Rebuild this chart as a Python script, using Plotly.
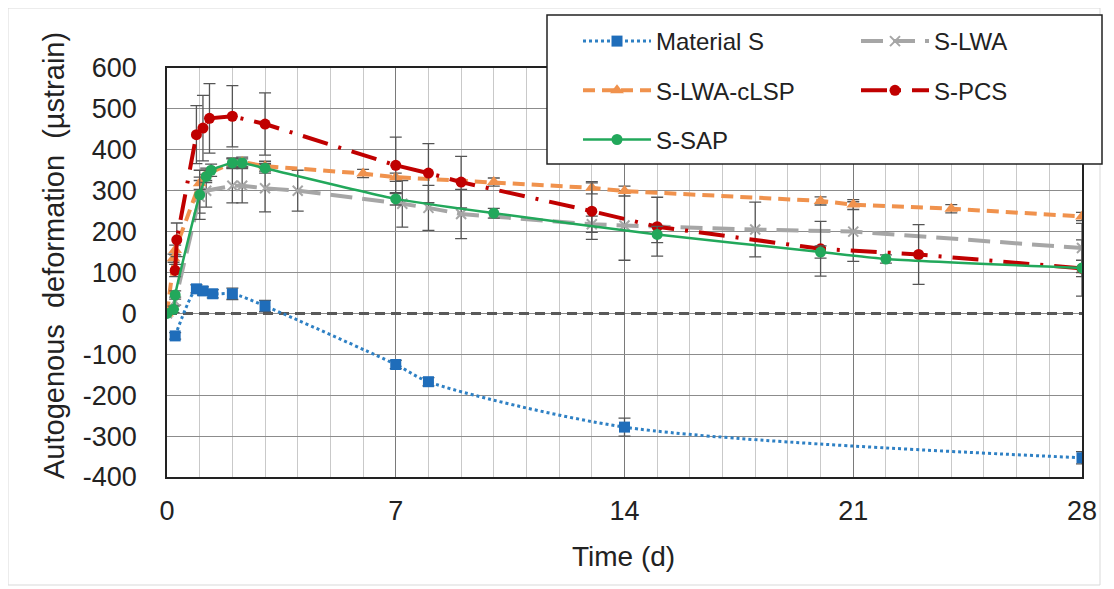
import plotly.graph_objects as go

# ---------------- data ----------------
t_mat = [0.25, 0.9, 1.1, 1.4, 2, 3, 7, 8, 14, 28]
v_mat = [-55, 60, 55, 48, 48, 18, -125, -167, -278, -353]
e_mat = [8, 10, 10, 10, 14, 14, 10, 10, 22, 15]

t_lwa = [0, 0.25, 1, 1.2, 2, 2.3, 3, 4, 7.2, 8, 9, 13, 14, 18, 21, 28]
v_lwa = [0, 30, 285, 300, 312, 312, 306, 300, 268, 258, 243, 218, 215, 205, 200, 160]
e_lwa = [0, 10, 40, 40, 42, 42, 58, 50, 57, 55, 60, 20, 85, 67, 73, 60]

t_clsp = [0, 0.2, 0.25, 1, 1.2, 2, 2.3, 3, 6, 7, 10, 13, 14, 20, 21, 24, 28]
v_clsp = [0, 135, 155, 318, 340, 368, 370, 360, 342, 333, 321, 307, 299, 275, 266, 256, 237]
e_clsp = [0, 10, 12, 15, 15, 12, 12, 12, 10, 10, 10, 15, 12, 10, 12, 10, 10]

t_pcs = [0.25, 0.3, 0.9, 1.1, 1.3, 2, 3, 7, 8, 9, 13, 15, 20, 23, 28]
v_pcs = [105, 180, 437, 453, 477, 482, 463, 362, 343, 321, 250, 212, 158, 144, 110]
e_pcs = [15, 41, 71, 80, 85, 75, 76, 69, 72, 63, 69, 72, 67, 73, 20]

t_sap = [0, 0.2, 0.25, 1, 1.2, 1.35, 2, 2.3, 3, 7, 10, 15, 20, 22, 28]
v_sap = [0, 10, 45, 290, 335, 350, 368, 368, 355, 280, 245, 193, 150, 133, 111]
e_sap = [0, 8, 10, 60, 15, 15, 10, 10, 12, 15, 12, 20, 15, 10, 69]

t_zero = [0, 28]
v_zero = [0, 0]

x_ticks = [0, 7, 14, 21, 28]
y_ticks = [-400, -300, -200, -100, 0, 100, 200, 300, 400, 500, 600]

FONT = "Liberation Sans, Arial, sans-serif"
OFF = 8  # page body margin
W, H = 1114 - OFF, 589 - OFF
# plot area in screen pixels
L, R, T, B = 167 - OFF, 1082 - OFF, 68 - OFF, 477 - OFF


def px2x(px):
    return (px - OFF - L) / (R - L)


def px2y(py):
    return (B - (py - OFF)) / (B - T)


def err(arr):
    return dict(type="data", array=arr, color="#555555", thickness=1.3, width=6)


fig = go.Figure()

fig.add_trace(go.Scatter(
    x=t_zero, y=v_zero, mode="lines", showlegend=False, hoverinfo="skip",
    line=dict(color="#595959", width=3, dash="10px,6px")))

fig.add_trace(go.Scatter(
    x=t_mat, y=v_mat, name="Material S", mode="lines+markers",
    line=dict(color="#2E80C4", width=3, dash="dot", shape="spline", smoothing=0.8),
    marker=dict(symbol="square", size=11, color="#1F6DBA"),
    error_y=err(e_mat), legend="legend", legendgroup="a"))

fig.add_trace(go.Scatter(
    x=t_lwa, y=v_lwa, name="S-LWA", mode="lines+markers",
    line=dict(color="#A6A6A6", width=4, dash="22px,10px"),
    marker=dict(symbol="x-thin", size=10, color="#A6A6A6", line=dict(width=2, color="#A6A6A6")),
    error_y=err(e_lwa), legend="legend2", legendgroup="b"))

fig.add_trace(go.Scatter(
    x=t_clsp, y=v_clsp, name="S-LWA-cLSP", mode="lines+markers",
    line=dict(color="#F0924D", width=4, dash="12px,7px"),
    marker=dict(symbol="triangle-up", size=12, color="#F0924D"),
    error_y=err(e_clsp), legend="legend", legendgroup="c"))

fig.add_trace(go.Scatter(
    x=t_pcs, y=v_pcs, name="S-PCS", mode="lines+markers",
    line=dict(color="#C00000", width=4, dash="26px,11px,3px,11px"),
    marker=dict(symbol="circle", size=11, color="#C00000"),
    error_y=err(e_pcs), legend="legend2", legendgroup="d"))

fig.add_trace(go.Scatter(
    x=t_sap, y=v_sap, name="S-SAP", mode="lines+markers",
    line=dict(color="#22A85B", width=2.5, shape="spline", smoothing=0.6),
    marker=dict(symbol="circle", size=11, color="#22A85B"),
    error_y=err(e_sap), legend="legend", legendgroup="e"))

legend_common = dict(
    bgcolor="rgba(0,0,0,0)", borderwidth=0, font=dict(family=FONT, size=24, color="#222222"),
    itemwidth=68, tracegroupgap=15, xanchor="left", yanchor="top", orientation="v",
    xref="paper", yref="paper", traceorder="grouped")

fig.update_layout(
    width=W, height=H,
    margin=dict(l=L, r=W - R, t=T, b=H - B, autoexpand=False),
    paper_bgcolor="white", plot_bgcolor="white",
    font=dict(family=FONT, size=27, color="#222222"),
    legend=dict(x=px2x(578), y=px2y(19), **legend_common),
    legend2=dict(x=px2x(856), y=px2y(19), **legend_common),
    xaxis=dict(
        range=[0, 28], tickmode="array", tickvals=x_ticks, ticktext=[str(v) for v in x_ticks],
        showgrid=True, gridcolor="#7A7A7A", gridwidth=1,
        minor=dict(dtick=1, tick0=0, showgrid=True, gridcolor="#C9C9C9", gridwidth=1),
        showline=True, linecolor="#222222", linewidth=1.5, mirror=True,
        zeroline=False, ticks="", ticklabelstandoff=9,
        tickfont=dict(family=FONT, size=27, color="#222222")),
    yaxis=dict(
        range=[-400, 600], tickmode="array", tickvals=y_ticks, ticktext=[str(v) for v in y_ticks],
        showgrid=True, gridcolor="#8C8C8C", gridwidth=1,
        showline=True, linecolor="#222222", linewidth=1.5, mirror=True,
        zeroline=False, ticks="", ticklabelstandoff=23,
        tickfont=dict(family=FONT, size=27, color="#222222")),
    shapes=[
        dict(type="rect", xref="paper", yref="paper", x0=px2x(8), x1=px2x(1100), y0=px2y(8), y1=px2y(585),
             line=dict(color="#D9D9D9", width=1), fillcolor="rgba(0,0,0,0)", layer="below"),
        dict(type="rect", xref="paper", yref="paper", x0=px2x(547), x1=px2x(1102), y0=px2y(15), y1=px2y(164),
             line=dict(color="#222222", width=1.5), fillcolor="white", layer="above"),
    ],
    annotations=[
        dict(text="Time (d)", xref="paper", yref="paper", x=px2x(623), y=px2y(556),
             xanchor="center", yanchor="middle", showarrow=False,
             font=dict(family=FONT, size=28, color="#222222")),
        dict(text="Autogenous  deformation  (µstrain)", xref="paper", yref="paper",
             x=px2x(54), y=px2y(256), xanchor="center", yanchor="middle", textangle=-90,
             showarrow=False, font=dict(family=FONT, size=29, color="#222222")),
    ],
)

fig.write_html("out.html")
